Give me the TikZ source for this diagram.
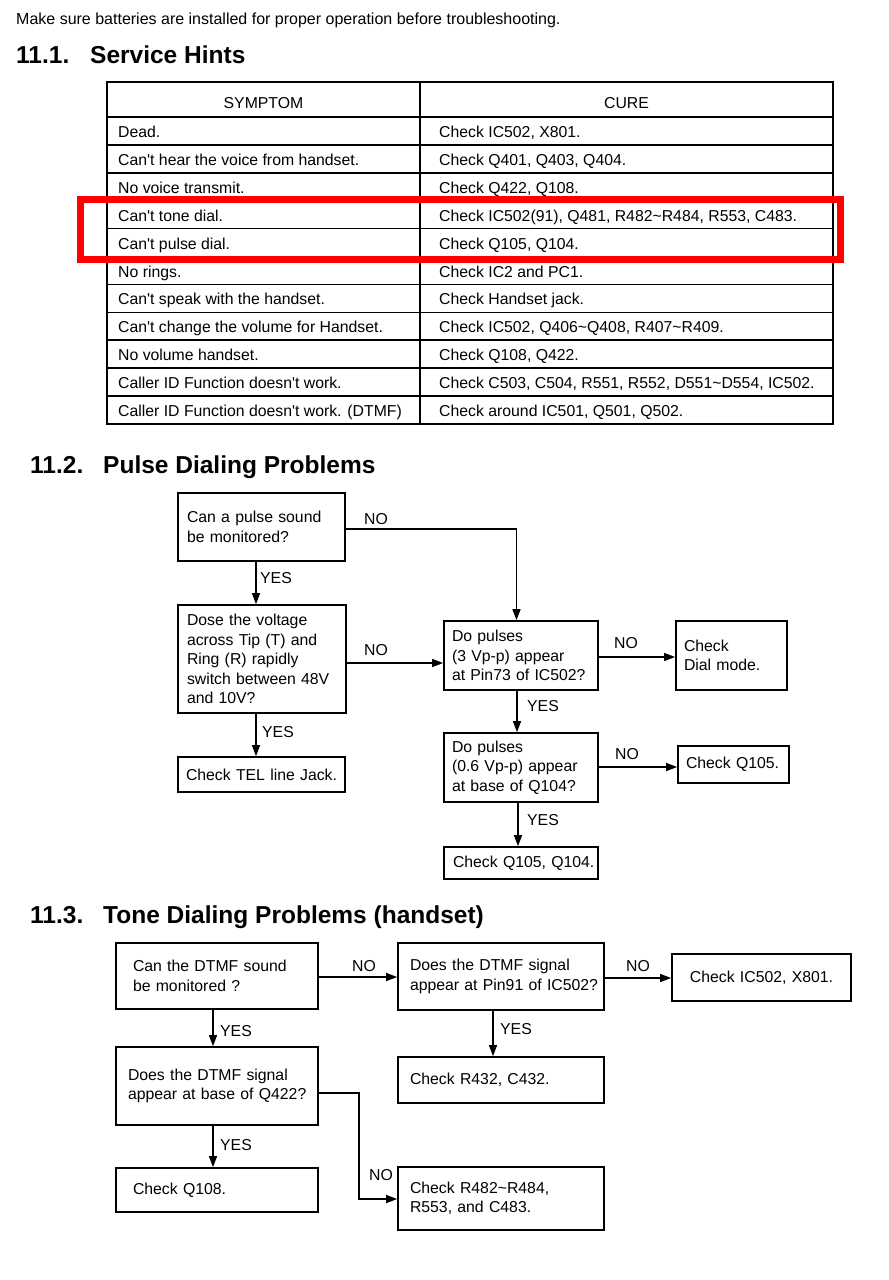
\documentclass[tikz,border=0pt]{standalone}
\usepackage{fontspec}
\setmainfont{Liberation Sans}
\usetikzlibrary{arrows.meta,calc}
\newcommand\qs{\textquotesingle}
\newcommand\tl{\textasciitilde}
\begin{document}
\begin{tikzpicture}[x=1pt,y=-1pt,
  txt/.style={inner sep=0pt, anchor=base west, font=\fontsize{15.8}{19.5}\selectfont},
  ctxt/.style={inner sep=0pt, anchor=base, font=\fontsize{15.8}{19.5}\selectfont},
  head/.style={inner sep=0pt, anchor=base west, font=\fontsize{24.5}{28}\selectfont\bfseries},
  fbox/.style={draw, line width=1.7pt, align=left, inner ysep=0pt, font=\fontsize{15.8}{19.5}\selectfont},
  arr/.style={line width=1.4pt, -{Triangle[length=11pt,width=8pt]}},
  lbl/.style={inner sep=0pt, anchor=west, font=\fontsize{15.8}{18}\selectfont},
  tbl/.style={line width=1.6pt}]
\fill[white] (0,0) rectangle (889,1280);
\useasboundingbox (0,0) rectangle (889,1280);

% top text and headings
\node[txt, font=\fontsize{16}{19.5}\selectfont] (intro) at (16,24.5) {Make sure batteries are installed for proper operation before troubleshooting.};
\node[head] (h1n) at (16,63) {11.1.};
\node[head] (h1t) at (90,63) {Service Hints};
\node[head] (h2n) at (30,473) {11.2.};
\node[head] (h2t) at (103,473) {Pulse Dialing Problems};
\node[head] (h3n) at (30,923) {11.3.};
\node[head] (h3t) at (103,923) {Tone Dialing Problems (handset)};

% table
\draw[tbl] (107,82) rectangle (833,424);
\draw[tbl] (420,82) -- (420,424);
\foreach \i in {0,...,10} {
  \draw[tbl] (107,{117+27.9*\i}) -- (833,{117+27.9*\i});
}
\node[ctxt] (hs) at (263.5,108) {SYMPTOM};
\node[ctxt] (hc) at (626.5,108) {CURE};
\node[txt] (s1) at (118,137.5) {Dead.};
\node[txt] (c1) at (439,137.5) {Check IC502, X801.};
\node[txt] (s2) at (118,165.4) {Can\qs t hear the voice from handset.};
\node[txt] (c2) at (439,165.4) {Check Q401, Q403, Q404.};
\node[txt] (s3) at (118,193.3) {No voice transmit.};
\node[txt] (c3) at (439,193.3) {Check Q422, Q108.};
\node[txt] (s4) at (118,221.2) {Can\qs t tone dial.};
\node[txt] (c4) at (439,221.2) {Check IC502(91), Q481, R482\tl R484, R553, C483.};
\node[txt] (s5) at (118,249.1) {Can\qs t pulse dial.};
\node[txt] (c5) at (439,249.1) {Check Q105, Q104.};
\node[txt] (s6) at (118,277.0) {No rings.};
\node[txt] (c6) at (439,277.0) {Check IC2 and PC1.};
\node[txt] (s7) at (118,304.9) {Can\qs t speak with the handset.};
\node[txt] (c7) at (439,304.9) {Check Handset jack.};
\node[txt] (s8) at (118,332.8) {Can\qs t change the volume for Handset.};
\node[txt] (c8) at (439,332.8) {Check IC502, Q406\tl Q408, R407\tl R409.};
\node[txt] (s9) at (118,360.7) {No volume handset.};
\node[txt] (c9) at (439,360.7) {Check Q108, Q422.};
\node[txt] (s10) at (118,388.6) {Caller ID Function doesn\qs t work.};
\node[txt] (c10) at (439,388.6) {Check C503, C504, R551, R552, D551\tl D554, IC502.};
\node[txt] (s11) at (118,416.5) {Caller ID Function doesn\qs t work. (DTMF)};
\node[txt] (c11) at (439,416.5) {Check around IC501, Q501, Q502.};
\draw[red, line width=7pt] (80,199) rectangle (840,259);

% pulse dialing flowchart
\node[fbox, minimum width=167, minimum height=68, text width=149, inner xsep=9] (A) at (261.5,527) {\mbox{Can a pulse sound}\\\mbox{be monitored?}};
\node[fbox, minimum width=168, minimum height=108, text width=150, inner xsep=9] (B) at (262,659) {\mbox{Dose the voltage}\\\mbox{across Tip (T) and}\\\mbox{Ring (R) rapidly}\\\mbox{switch between 48V}\\\mbox{and 10V?}};
\node[fbox, minimum width=167, minimum height=35, text width=151, inner xsep=8] (C) at (261.5,774.5) {\mbox{Check TEL line Jack.}};
\node[fbox, minimum width=154, minimum height=69, text width=138, inner xsep=8] (D) at (521,655.5) {\mbox{Do pulses}\\\mbox{(3 Vp-p) appear}\\\mbox{at Pin73 of IC502?}};
\node[fbox, minimum width=111, minimum height=69, text width=95, inner xsep=8] (E) at (731.5,655.5) {\mbox{Check}\\\mbox{Dial mode.}};
\node[fbox, minimum width=154, minimum height=69, text width=138, inner xsep=8] (F) at (521,767.5) {\mbox{Do pulses}\\\mbox{(0.6 Vp-p) appear}\\\mbox{at base of Q104?}};
\node[fbox, minimum width=111, minimum height=37, text width=95, inner xsep=8] (G) at (733.5,764.5) {\mbox{Check Q105.}};
\node[fbox, minimum width=154, minimum height=32, text width=136, inner xsep=8] (H) at (521,863) {\mbox{Check Q105, Q104.}};

\coordinate (pa) at (256,0);
\coordinate (pd) at (516.5,0);
\coordinate (pd2) at (517,0);
\coordinate (pd3) at (518,0);
\coordinate (ya) at (0,529);
\coordinate (yb) at (0,663);
\coordinate (yd) at (0,657);
\coordinate (yf) at (0,767);
\draw[arr] (A.south -| pa) -- (B.north -| pa);
\draw[arr] (B.south -| pa) -- (C.north -| pa);
\draw[arr] (A.east |- ya) -| (D.north -| pd);
\draw[arr] (B.east |- yb) -- (D.west |- yb);
\draw[arr] (D.east |- yd) -- (E.west |- yd);
\draw[arr] (D.south -| pd2) -- (F.north -| pd2);
\draw[arr] (F.east |- yf) -- (G.west |- yf);
\draw[arr] (F.south -| pd3) -- (H.north -| pd3);
\node[lbl] (pno1) at (364,519) {NO};
\node[lbl] (pyes1) at (260,578) {YES};
\node[lbl] (pno2) at (364,650) {NO};
\node[lbl] (pyes2) at (262,732) {YES};
\node[lbl] (pno3) at (614,643) {NO};
\node[lbl] (pyes3) at (527,706) {YES};
\node[lbl] (pno4) at (615,754) {NO};
\node[lbl] (pyes4) at (527,820) {YES};

% tone dialing flowchart
\node[fbox, minimum width=202, minimum height=66, text width=168, inner xsep=17] (T1) at (217,976) {\mbox{Can the DTMF sound}\\\mbox{be monitored ?}};
\node[fbox, minimum width=206, minimum height=67, text width=182, inner xsep=12] (T2) at (501,976.5) {\mbox{Does the DTMF signal}\\\mbox{appear at Pin91 of IC502?}};
\node[fbox, minimum width=179, minimum height=47, text width=159, inner xsep=10, align=center] (T3) at (761.5,977.5) {\mbox{Check IC502, X801.}};
\node[fbox, minimum width=206, minimum height=46, text width=182, inner xsep=12] (T4) at (501,1080) {\mbox{Check R432, C432.}};
\node[fbox, minimum width=206, minimum height=63, text width=182, inner xsep=12] (T5) at (501,1198.5) {\mbox{Check R482\tl R484,}\\\mbox{R553, and C483.}};
\node[fbox, minimum width=202, minimum height=78, text width=178, inner xsep=12] (T6) at (217,1086) {\mbox{Does the DTMF signal}\\\mbox{appear at base of Q422?}};
\node[fbox, minimum width=202, minimum height=44, text width=168, inner xsep=17] (T7) at (217,1190) {\mbox{Check Q108.}};

\coordinate (ta) at (213,0);
\coordinate (tb) at (493,0);
\coordinate (tx) at (359,0);
\coordinate (y1) at (0,977);
\coordinate (y2) at (0,978);
\coordinate (y6) at (0,1093);
\coordinate (y5) at (0,1199);
\draw[arr] (T1.south -| ta) -- (T6.north -| ta);
\draw[arr] (T6.south -| ta) -- (T7.north -| ta);
\draw[arr] (T1.east |- y1) -- (T2.west |- y1);
\draw[arr] (T2.east |- y2) -- (T3.west |- y2);
\draw[arr] (T2.south -| tb) -- (T4.north -| tb);
\draw[arr] (T6.east |- y6) -| (tx |- y5) -- (T5.west |- y5);
\node[lbl] (tno1) at (352,966) {NO};
\node[lbl] (tno2) at (626,966) {NO};
\node[lbl] (tyes1) at (220,1031) {YES};
\node[lbl] (tyes2) at (500,1029) {YES};
\node[lbl] (tyes3) at (220,1145) {YES};
\node[lbl] (tno3) at (369,1175) {NO};
\end{tikzpicture}
\end{document}
